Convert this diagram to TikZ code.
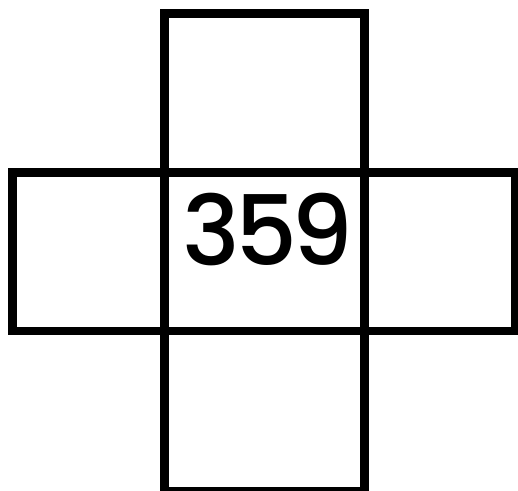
\documentclass[tikz,border=0pt]{standalone}
\usepackage{fontspec}
\newfontfamily\numfont{Poppins Medium}
\begin{document}
\begin{tikzpicture}[x=1pt,y=-1pt,
  cell/.style={draw=black, line width=8.7pt, inner sep=0pt, outer sep=0pt, miter limit=10},
  numlabel/.style={font=\numfont\fontsize{97}{97}\selectfont, inner sep=0pt}]
\clip (0,0) rectangle (518,490);
\useasboundingbox (0,0) rectangle (518,490);
\node[cell, minimum width=199.9pt, minimum height=158.8pt] (top) at (264.55,92.9) {};
\node[cell, minimum width=152.3pt, minimum height=158.7pt] (left) at (88.45,251.65) {};
\node[cell, minimum width=199.9pt, minimum height=158.7pt] (mid) at (264.55,251.65) {};
\node[cell, minimum width=150.8pt, minimum height=158.7pt] (right) at (439.9,251.65) {};
\node[cell, minimum width=199.9pt, minimum height=160pt] (bottom) at (264.55,411) {};
\node[numlabel] (num) at (268,230) {3\kern-5.5pt5\kern-5.5pt9};
\end{tikzpicture}
\end{document}
